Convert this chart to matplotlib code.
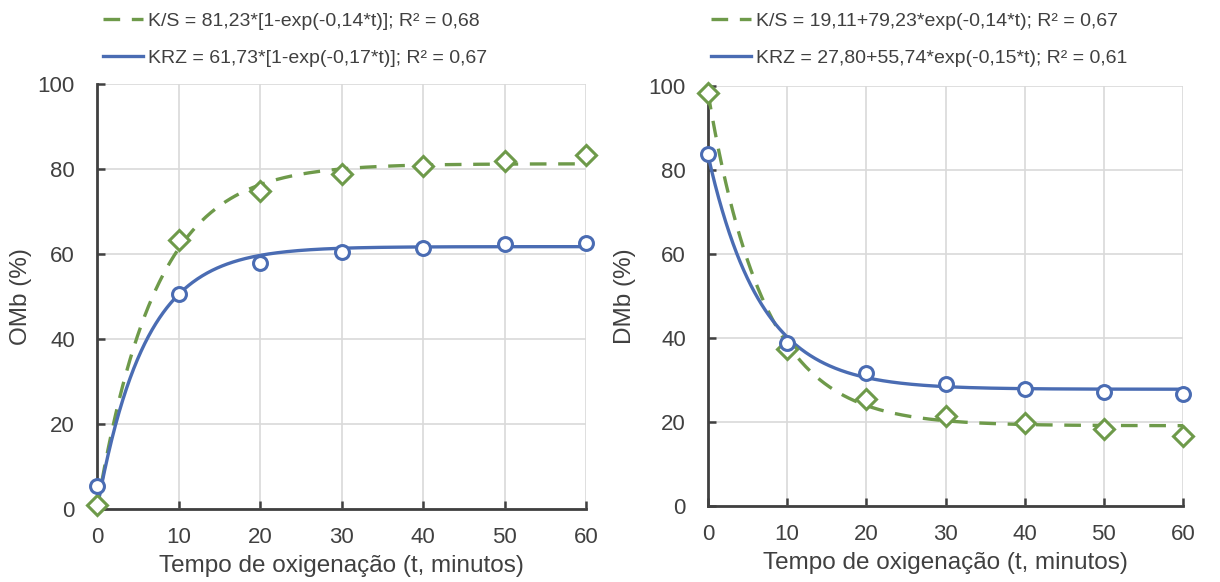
import numpy as np
import matplotlib
matplotlib.use("Agg")
import matplotlib.pyplot as plt

plt.rcParams['font.family'] = ['Liberation Sans', 'DejaVu Sans']

# ---- data ----
t_obs = [0, 10, 20, 30, 40, 50, 60]
omb_ks = [1.0, 63.3, 74.8, 78.8, 80.6, 81.8, 83.3]
omb_krz = [5.3, 50.7, 57.9, 60.5, 61.5, 62.3, 62.6]
dmb_ks = [98.4, 37.3, 25.4, 21.5, 19.7, 18.3, 16.7]
dmb_krz = [83.7, 38.9, 31.6, 29.0, 27.8, 27.1, 26.7]

# fitted model parameters stated in the legends
omb_ks_fit = [81.23, 0.14]          # A*[1-exp(-k t)]
omb_krz_fit = [61.73, 0.17]
dmb_ks_fit = [19.11, 79.23, 0.14]   # c + A*exp(-k t)
dmb_krz_fit = [27.80, 55.74, 0.15]

omb_labels = ["K/S = 81,23*[1-exp(-0,14*t)]; R² = 0,68",
              "KRZ = 61,73*[1-exp(-0,17*t)]; R² = 0,67"]
dmb_labels = ["K/S = 19,11+79,23*exp(-0,14*t); R² = 0,67",
              "KRZ = 27,80+55,74*exp(-0,15*t); R² = 0,61"]
xticks = [0, 10, 20, 30, 40, 50, 60]
yticks = [0, 20, 40, 60, 80, 100]
xlabel = "Tempo de oxigenação (t, minutos)"

GREEN = '#6E9A4A'
BLUE = '#4A6CB3'
TXT = '#404040'

fig = plt.figure(figsize=(12.2, 5.82), dpi=100)
axL = fig.add_axes([97/1220, 1-509/582, (586-97)/1220, (509-84)/582])
axR = fig.add_axes([708/1220, 1-506/582, (1183-708)/1220, (506-86)/582])

tt = np.linspace(0, 60, 400)

def style(ax, ylabel, ylabelpad):
    ax.set_xlim(0, 60)
    ax.set_ylim(0, 100)
    ax.set_xticks(xticks)
    ax.set_yticks(yticks)
    ax.grid(True, color='#D9D9D9', lw=1.2)
    ax.set_axisbelow(True)
    for s in ['top', 'right']:
        ax.spines[s].set_visible(False)
    for s in ['left', 'bottom']:
        ax.spines[s].set_color(TXT)
        ax.spines[s].set_linewidth(2)
    ax.tick_params(direction='in', length=6, width=1.8, color=TXT,
                   labelsize=16, labelcolor=TXT)
    ax.tick_params(axis='y', pad=16)
    ax.tick_params(axis='x', pad=13)
    ax.set_xlabel(xlabel, fontsize=17.5, color=TXT, labelpad=5)
    ax.set_ylabel(ylabel, fontsize=17.5, color=TXT, labelpad=ylabelpad)

def draw(ax, ks_curve, krz_curve, ks_obs, krz_obs):
    l1, = ax.plot(tt, ks_curve, color=GREEN, lw=2.4, ls=(0, (5, 3.5)), zorder=3)
    l2, = ax.plot(tt, krz_curve, color=BLUE, lw=2.4, zorder=3)
    ax.plot(t_obs, ks_obs, ls='none', marker='D', ms=10, mfc='white',
            mec=GREEN, mew=2.2, zorder=4, clip_on=False)
    ax.plot(t_obs, krz_obs, ls='none', marker='o', ms=10, mfc='white',
            mec=BLUE, mew=2.2, zorder=5, clip_on=False)
    return [l1, l2]

style(axL, "OMb (%)", 4)
style(axR, "DMb (%)", 9)

hL = draw(axL,
          omb_ks_fit[0] * (1 - np.exp(-omb_ks_fit[1] * tt)),
          omb_krz_fit[0] * (1 - np.exp(-omb_krz_fit[1] * tt)),
          omb_ks, omb_krz)
hR = draw(axR,
          dmb_ks_fit[0] + dmb_ks_fit[1] * np.exp(-dmb_ks_fit[2] * tt),
          dmb_krz_fit[0] + dmb_krz_fit[1] * np.exp(-dmb_krz_fit[2] * tt),
          dmb_ks, dmb_krz)

for h, labs, x0 in [(hL, omb_labels, 99/1220), (hR, dmb_labels, 707/1220)]:
    leg = fig.legend(h, labs, loc='upper left', bbox_to_anchor=(x0, 1 - 8/582),
                     frameon=False, fontsize=14.0, handlelength=2.05,
                     handletextpad=0.25, labelspacing=1.0, borderpad=0.2,
                     borderaxespad=0)
    for txt in leg.get_texts():
        txt.set_color(TXT)

fig.savefig("out.png", dpi=100)
